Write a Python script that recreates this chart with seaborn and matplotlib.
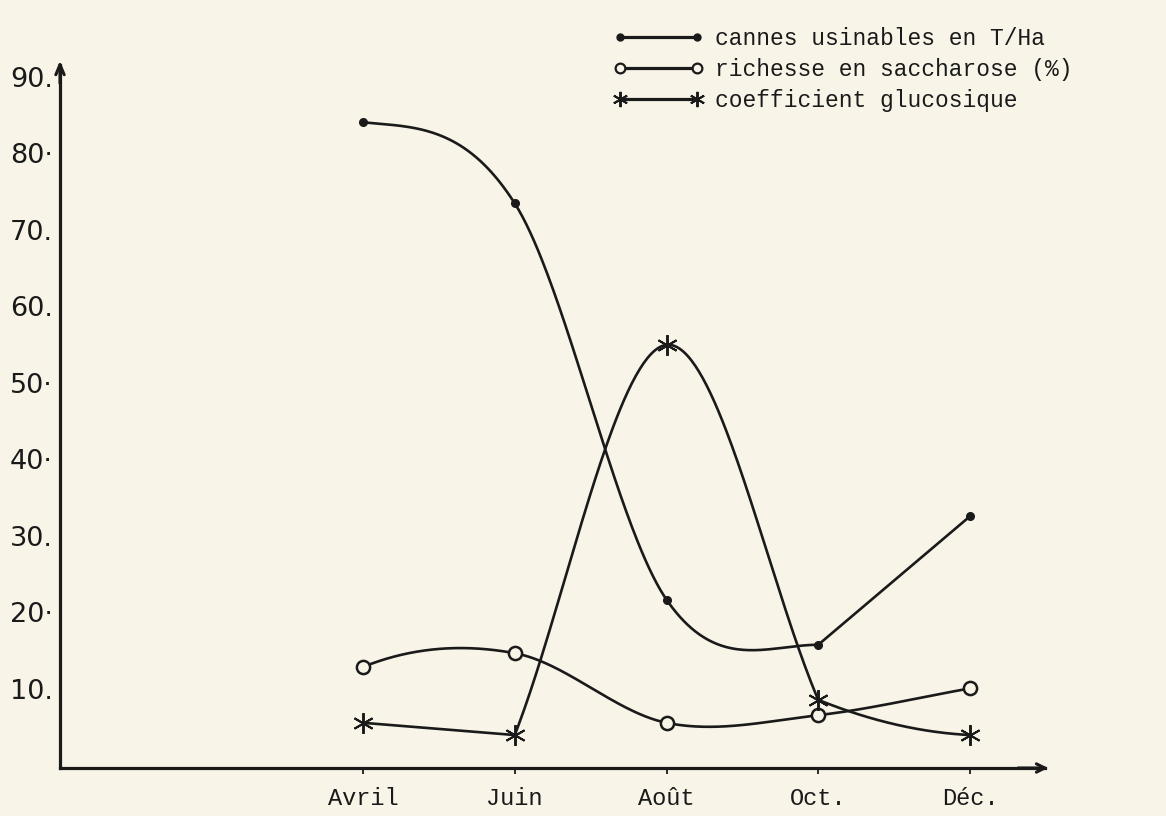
import numpy as np
import pandas as pd
import matplotlib
matplotlib.use("Agg")
import matplotlib.pyplot as plt
import matplotlib.transforms as mtransforms
import seaborn as sns
from matplotlib.lines import Line2D

# ---------------- data ----------------
months = ["Avril", "Juin", "Août", "Oct.", "Déc."]
cannes = [84.8, 74.2, 22.4, 16.5, 33.3]        # cannes usinables en T/Ha
richesse = [13.6, 15.4, 6.3, 7.3, 10.8]        # richesse en saccharose (%)
glucosique = [6.3, 4.7, 55.7, 9.3, 4.7]        # coefficient glucosique
yticks = [10, 20, 30, 40, 50, 60, 70, 80, 90]
ytick_labels = ["10.", "20·", "30.", "40·", "50·", "60.", "70.", "80·", "90."]
legend_labels = ["cannes usinables en T/Ha",
                 "richesse en saccharose (%)",
                 "coefficient glucosique"]

# ---------------- styling ----------------
PAPER = "#f8f4e8"
INK = "#1a1a1a"
MONO = "Liberation Mono"

sns.set_theme(style="white")
plt.rcParams["font.family"] = ["DejaVu Sans"]

# pen-stroke shape hints: {point index: (slope in, slope out)}; None = smooth default
SHAPE_CANNES = {0: (None, -2.0), 3: (0.0, "sec"), 4: ("sec", None)}
SHAPE_RICHESSE = {0: (None, 8.0)}
SHAPE_GLUCO = {1: ("sec", "sec"), 3: ("sec", -8.0), 4: (-1.0, None)}


def hermite_curve(xs, ys, shape=None, n=80):
    """Smooth hand-drawn-like curve through the points (Catmull-Rom tangents)."""
    shape = shape or {}
    xs = np.asarray(xs, float)
    ys = np.asarray(ys, float)
    k = len(xs)
    mL = np.zeros(k)
    mR = np.zeros(k)
    for i in range(k):
        if i == 0:
            s = (ys[1] - ys[0]) / (xs[1] - xs[0])
        elif i == k - 1:
            s = (ys[-1] - ys[-2]) / (xs[-1] - xs[-2])
        else:
            s = (ys[i + 1] - ys[i - 1]) / (xs[i + 1] - xs[i - 1])
        mL[i] = mR[i] = s
        if i in shape:
            a, b = shape[i]
            if a == "sec" and i > 0:
                a = (ys[i] - ys[i - 1]) / (xs[i] - xs[i - 1])
            if b == "sec" and i < k - 1:
                b = (ys[i + 1] - ys[i]) / (xs[i + 1] - xs[i])
            if a is not None and a != "sec":
                mL[i] = a
            if b is not None and b != "sec":
                mR[i] = b
    px, py = [], []
    for i in range(k - 1):
        h = xs[i + 1] - xs[i]
        t = np.linspace(0, 1, n)
        h00 = 2 * t**3 - 3 * t**2 + 1
        h10 = t**3 - 2 * t**2 + t
        h01 = -2 * t**3 + 3 * t**2
        h11 = t**3 - t**2
        seg = h00 * ys[i] + h10 * h * mR[i] + h01 * ys[i + 1] + h11 * h * mL[i + 1]
        px.append(xs[i] + t * h)
        py.append(seg)
    return np.concatenate(px), np.concatenate(py)


W, H = 1166, 816
fig = plt.figure(figsize=(W / 100, H / 100), dpi=100)
fig.patch.set_facecolor(PAPER)
ax = fig.add_axes([60 / W, (H - 768) / H, (1045 - 60) / W, (768 - 65) / H])
ax.set_facecolor(PAPER)

x = np.arange(len(months))
series = [
    (cannes, dict(marker="o", ms=5.5, mfc=INK, mec=INK, mew=1), SHAPE_CANNES),
    (richesse, dict(marker="o", ms=9.5, mfc=PAPER, mec=INK, mew=1.8), SHAPE_RICHESSE),
    (glucosique, dict(marker=(6, 2, 0), ms=15, mfc=INK, mec=INK, mew=1.4), SHAPE_GLUCO),
]

for vals, mk, shape in series:
    cx, cy = hermite_curve(x, vals, shape=shape)
    curve = pd.DataFrame({"x": cx, "y": cy})
    sns.lineplot(data=curve, x="x", y="y", ax=ax, color=INK, lw=1.9,
                 sort=False, estimator=None)
    pts = pd.DataFrame({"x": x, "y": vals})
    ax.plot(pts["x"], pts["y"], ls="none", zorder=5, **mk)

px_per_unit = 7.65
ax.set_xlim((60 - 363) / 151.75, (1045 - 363) / 151.75)
ax.set_ylim(3 / px_per_unit, (771 - 65) / px_per_unit)
ax.set_xlabel("")
ax.set_ylabel("")

ax.set_xticks(x)
ax.set_xticklabels(months, family=MONO, fontsize=17, color=INK)
ax.set_yticks(yticks)
ax.set_yticklabels(ytick_labels, fontsize=19.5, color=INK)
ax.tick_params(axis="x", direction="out", length=4, width=1.3, color=INK,
               pad=10, bottom=True)
ax.tick_params(axis="y", length=0, pad=5)
shift = mtransforms.ScaledTranslation(0, 4 / 72, fig.dpi_scale_trans)
for lab in ax.get_yticklabels():
    lab.set_transform(lab.get_transform() + shift)

for side in ("top", "right"):
    ax.spines[side].set_visible(False)
for side in ("left", "bottom"):
    ax.spines[side].set_color(INK)
    ax.spines[side].set_linewidth(2.3)

# arrow heads at the axis ends
ax.annotate("", xy=(0, 1.01), xytext=(0, 0.97), xycoords="axes fraction",
            arrowprops=dict(arrowstyle="->,head_length=0.6,head_width=0.25",
                            color=INK, lw=2.2), annotation_clip=False)
ax.annotate("", xy=(1.006, 0), xytext=(0.97, 0), xycoords="axes fraction",
            arrowprops=dict(arrowstyle="->,head_length=0.5,head_width=0.25",
                            color=INK, lw=2.2), annotation_clip=False)

# legend
handles = [
    Line2D([], [], color=INK, lw=2.3, marker="o", ms=5, mfc=INK, mec=INK),
    Line2D([], [], color=INK, lw=2.3, marker="o", ms=7, mfc=PAPER, mec=INK, mew=1.6),
    Line2D([], [], color=INK, lw=2.3, marker=(6, 2, 0), ms=11, mec=INK, mew=1.4),
]
leg = fig.legend(handles, legend_labels, loc="upper left",
                 bbox_to_anchor=(592 / W, 1 - 6 / H), frameon=False,
                 numpoints=2, handlelength=4.0, handletextpad=0.45,
                 labelspacing=0.35, prop=dict(family=MONO, size=16.5))
for t in leg.get_texts():
    t.set_color(INK)

fig.savefig("out.png", dpi=100, facecolor=PAPER)
